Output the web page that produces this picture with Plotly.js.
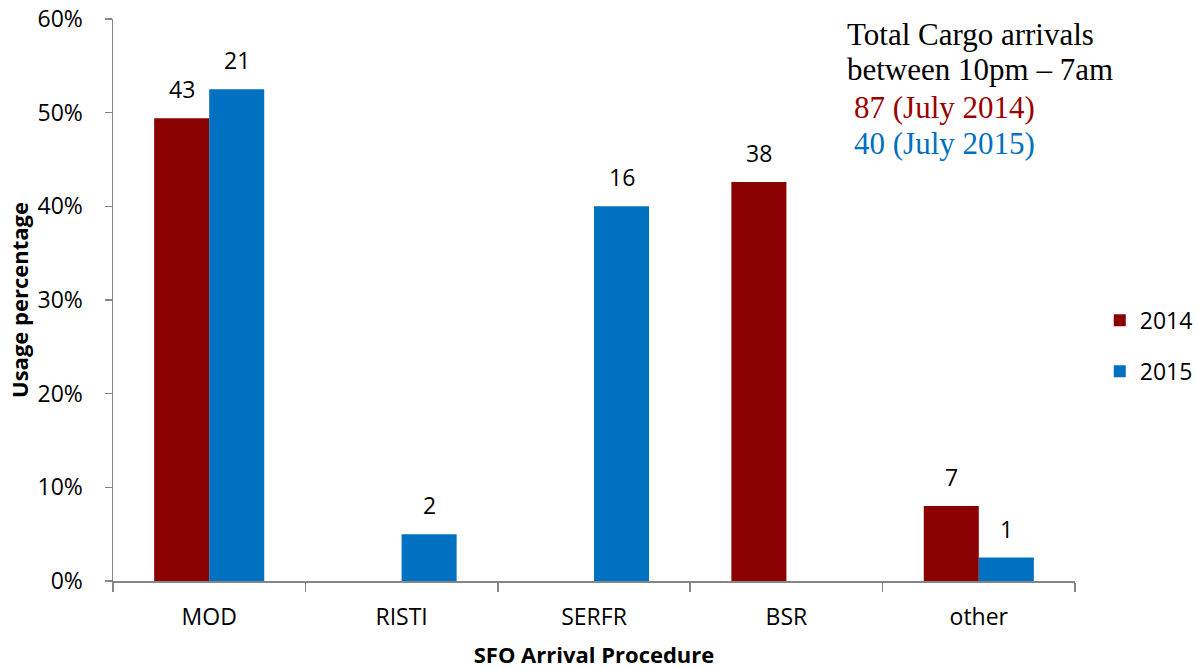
<!DOCTYPE html>
<html>
<head>
<meta charset="utf-8">
<script src="https://cdn.plot.ly/plotly-3.0.1.min.js"></script>
<style>html,body{margin:0;padding:0;background:#fff;}#chart{width:1198px;height:669px;}</style>
</head>
<body>
<div id="chart"></div>
<script>
const categories = ["MOD", "RISTI", "SERFR", "BSR", "other"];
const pct2014 = [49.4, null, null, 42.6, 8.0];
const pct2015 = [52.5, 5.0, 40.0, null, 2.5];
const count2014 = ["43", "", "", "38", "7"];
const count2015 = ["21", "2", "16", "", "1"];
const yTickVals = [0, 10, 20, 30, 40, 50, 60];
const yTickText = ["0%", "10%", "20%", "30%", "40%", "50%", "60%"];
const noteLines = ["Total Cargo arrivals", "between 10pm – 7am", "87 (July 2014)", "40 (July 2015)"];

const font = "Open Sans, Liberation Sans, sans-serif";
const serif = "Liberation Serif, Times New Roman, serif";
const red = "#8B0000", blue = "#0070C0";

const traces = [
  {type: "bar", name: "2014", x: categories, y: pct2014,
   marker: {color: red}, legendgroup: "a", hoverinfo: "skip"},
  {type: "bar", name: "2015", x: categories, y: pct2015,
   marker: {color: blue}, legendgroup: "b", hoverinfo: "skip"}
];

// count labels above bars, positioned by the axes
const labelAnns = [];
[[pct2014, count2014, -27.5], [pct2015, count2015, 27.5]].forEach(([vals, txt, dx]) => {
  categories.forEach((c, i) => {
    if (vals[i] !== null && txt[i] !== "") {
      labelAnns.push({x: c, y: vals[i], xref: "x", yref: "y", text: txt[i], showarrow: false,
        xshift: dx, yshift: 29, yanchor: "middle", font: {family: font, size: 23, color: "#000"}});
    }
  });
});

const noteX = [0.761, 0.761, 0.768, 0.768];
const noteY = [0.973, 0.9108, 0.8432, 0.7791];
const noteColor = ["#000", "#000", "#9B0000", blue];
const noteAnns = noteLines.map((t, i) => ({
  xref: "paper", yref: "paper", x: noteX[i], y: noteY[i], xanchor: "left", yanchor: "middle",
  showarrow: false, text: t, font: {family: serif, size: 31, color: noteColor[i]}
}));

const layout = {
  width: 1198, height: 669,
  margin: {l: 113, r: 123, t: 19, b: 88, autoexpand: false},
  paper_bgcolor: "#fff", plot_bgcolor: "#fff",
  barmode: "group", bargap: 0.428, bargroupgap: 0,
  font: {family: font, size: 23, color: "#000"},
  xaxis: {
    type: "category", showline: true, linecolor: "#868686", linewidth: 1.5,
    ticks: "outside", tickson: "boundaries", ticklen: 9, tickcolor: "#868686", tickwidth: 1.5,
    showgrid: false, zeroline: false,
    tickfont: {family: font, size: 23}, ticklabelstandoff: 15,
    title: {text: "<b>SFO Arrival Procedure</b>", font: {family: font, size: 22}, standoff: 17}
  },
  yaxis: {
    range: [0, 60], tickvals: yTickVals, ticktext: yTickText,
    showline: true, linecolor: "#868686", linewidth: 1.5,
    ticks: "outside", ticklen: 7, tickcolor: "#868686", tickwidth: 1.5,
    showgrid: false, zeroline: false,
    tickfont: {family: font, size: 23}, ticklabelstandoff: 17,
    title: {text: "<b>Usage percentage</b>", font: {family: font, size: 22}, standoff: 3}
  },
  legend: {
    xref: "container", yref: "container",
    x: 0.918, y: 0.483, xanchor: "left", yanchor: "middle",
    font: {family: font, size: 23}, traceorder: "grouped", tracegroupgap: 18,
    bgcolor: "rgba(0,0,0,0)"
  },
  annotations: labelAnns.concat(noteAnns)
};

Plotly.newPlot("chart", traces, layout, {displayModeBar: false, staticPlot: true});
</script>
</body>
</html>
